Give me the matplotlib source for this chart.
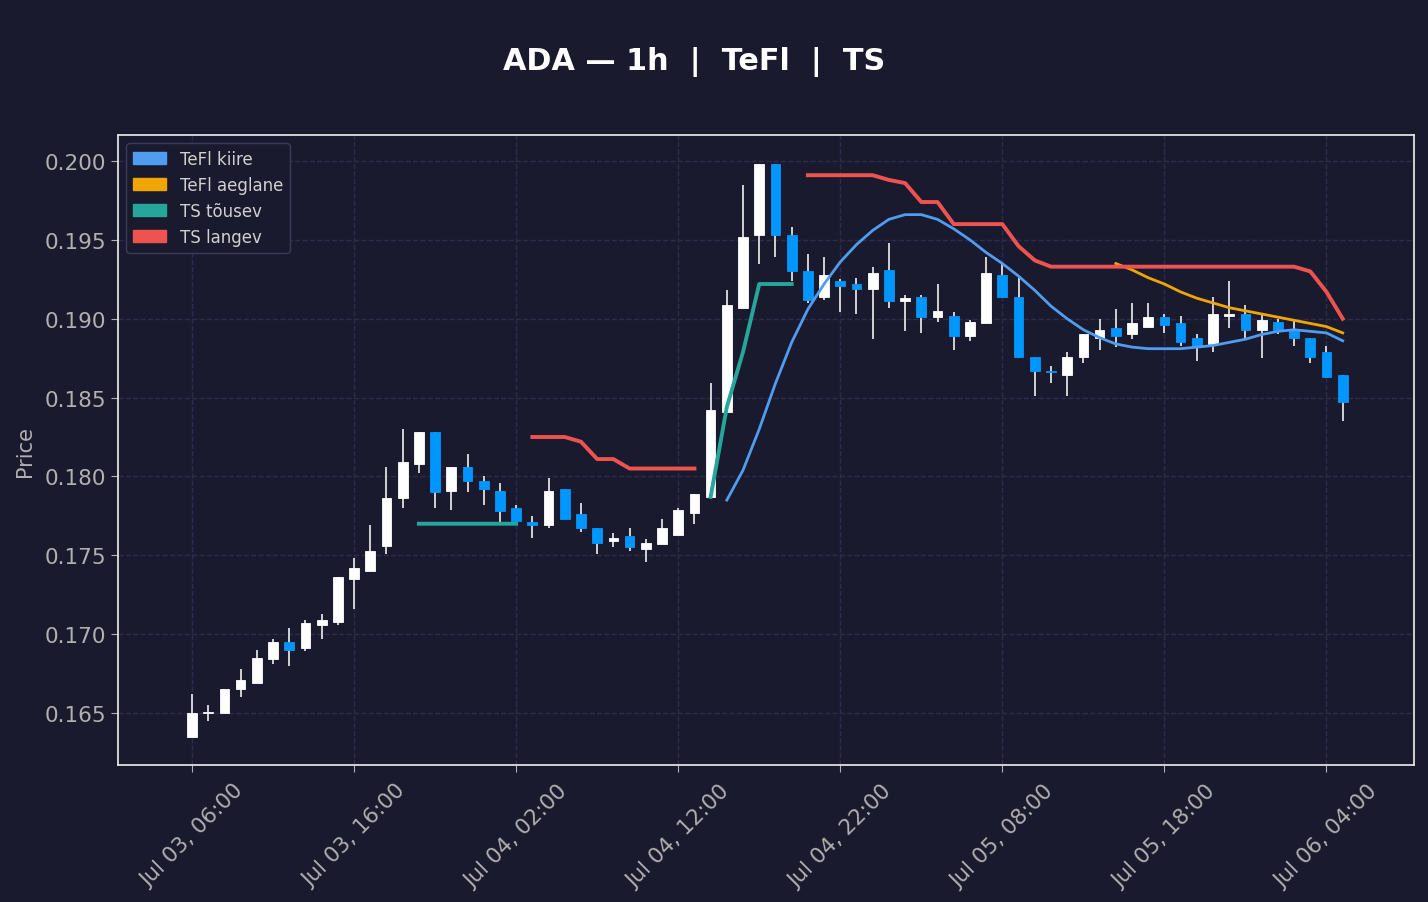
import matplotlib
matplotlib.use("Agg")
import matplotlib.pyplot as plt
import matplotlib.dates as mdates
import matplotlib.patches as mpatches
import numpy as np
import pandas as pd

bg = "#1a1a2e"
up_col = "#ffffff"
down_col = "#0096ff"
wick_col = "#e0e0e0"
kiire_col = "#4f9cf0"
aeglane_col = "#f0a500"
tous_col = "#26a69a"
lang_col = "#ef5350"

times = pd.date_range("2024-07-03 06:00", periods=72, freq="h")

opens = [0.1635, 0.1650, 0.1650, 0.1665, 0.1669, 0.1684, 0.1695, 0.1691, 0.1706, 0.1708,
         0.1735, 0.1740, 0.1756, 0.1786, 0.1808, 0.1828, 0.1791, 0.1806, 0.1797, 0.1791,
         0.1780, 0.1771, 0.1769, 0.1792, 0.1776, 0.1767, 0.1759, 0.1762, 0.1754, 0.1757,
         0.1763, 0.1777, 0.1787, 0.1841, 0.1907, 0.1953, 0.1998, 0.1953, 0.1930, 0.1914,
         0.1924, 0.1922, 0.1919, 0.1931, 0.1911, 0.1914, 0.1901, 0.1902, 0.1889, 0.1897,
         0.1928, 0.1914, 0.1876, 0.1867, 0.1864, 0.1876, 0.1888, 0.1894, 0.1890, 0.1895,
         0.1901, 0.1897, 0.1888, 0.1884, 0.1902, 0.1903, 0.1893, 0.1898, 0.1893, 0.1888,
         0.1879, 0.1864]
closes = [0.1650, 0.1650, 0.1665, 0.1671, 0.1685, 0.1695, 0.1690, 0.1707, 0.1709, 0.1736,
          0.1742, 0.1753, 0.1786, 0.1809, 0.1828, 0.1790, 0.1806, 0.1797, 0.1792, 0.1778,
          0.1772, 0.1769, 0.1791, 0.1773, 0.1767, 0.1758, 0.1761, 0.1755, 0.1758, 0.1767,
          0.1779, 0.1789, 0.1842, 0.1909, 0.1952, 0.1998, 0.1953, 0.1930, 0.1912, 0.1928,
          0.1921, 0.1919, 0.1929, 0.1911, 0.1913, 0.1901, 0.1905, 0.1889, 0.1898, 0.1929,
          0.1914, 0.1876, 0.1867, 0.1866, 0.1876, 0.1890, 0.1893, 0.1889, 0.1897, 0.1901,
          0.1896, 0.1885, 0.1882, 0.1903, 0.1903, 0.1893, 0.1899, 0.1893, 0.1888, 0.1876,
          0.1863, 0.1847]
highs = [0.1662, 0.1655, 0.1665, 0.1678, 0.1690, 0.1697, 0.1704, 0.1709, 0.1713, 0.1736,
         0.1748, 0.1769, 0.1806, 0.1830, 0.1828, 0.1828, 0.1806, 0.1814, 0.1800, 0.1796,
         0.1782, 0.1775, 0.1799, 0.1792, 0.1783, 0.1767, 0.1764, 0.1767, 0.1760, 0.1773,
         0.1780, 0.1789, 0.1859, 0.1918, 0.1985, 0.1998, 0.1998, 0.1958, 0.1941, 0.1939,
         0.1925, 0.1926, 0.1933, 0.1948, 0.1915, 0.1915, 0.1922, 0.1904, 0.1899, 0.1939,
         0.1935, 0.1926, 0.1876, 0.1870, 0.1879, 0.1890, 0.1900, 0.1906, 0.1910, 0.1910,
         0.1903, 0.1902, 0.1890, 0.1914, 0.1924, 0.1909, 0.1903, 0.1900, 0.1899, 0.1888,
         0.1883, 0.1864]
lows = [0.1635, 0.1645, 0.1650, 0.1660, 0.1669, 0.1681, 0.1680, 0.1689, 0.1697, 0.1706,
        0.1716, 0.1740, 0.1751, 0.1780, 0.1802, 0.1780, 0.1779, 0.1790, 0.1782, 0.1771,
        0.1770, 0.1761, 0.1767, 0.1773, 0.1765, 0.1751, 0.1755, 0.1753, 0.1746, 0.1757,
        0.1763, 0.1770, 0.1787, 0.1841, 0.1907, 0.1935, 0.1939, 0.1924, 0.1910, 0.1912,
        0.1904, 0.1903, 0.1887, 0.1907, 0.1892, 0.1891, 0.1898, 0.1880, 0.1886, 0.1897,
        0.1913, 0.1875, 0.1851, 0.1859, 0.1851, 0.1872, 0.1880, 0.1882, 0.1887, 0.1895,
        0.1891, 0.1883, 0.1873, 0.1879, 0.1894, 0.1888, 0.1875, 0.1890, 0.1883, 0.1872,
        0.1863, 0.1835]

# indicator lines (NaN = not drawn)
nan = np.nan
tefl_kiire = [nan] * 33 + [0.1785, 0.1804, 0.1830, 0.1859, 0.1885, 0.1906, 0.1922,
                           0.1936, 0.1947, 0.1956, 0.1963, 0.1966, 0.1966, 0.1963,
                           0.1957, 0.1950, 0.1942, 0.1935, 0.1927, 0.1918, 0.1908,
                           0.1900, 0.1893, 0.1888, 0.1884, 0.1882, 0.1881, 0.1881,
                           0.1881, 0.1882, 0.1883, 0.1885, 0.1887, 0.1890, 0.1892,
                           0.1893, 0.1892, 0.1891, 0.1886]
tefl_aeglane = [nan] * 57 + [0.1935, 0.1931, 0.1926, 0.1922, 0.1917, 0.1913, 0.1910,
                             0.1907, 0.1905, 0.1903, 0.1901, 0.1899, 0.1897, 0.1895,
                             0.1891]
ts_tousev = ([nan] * 14 + [0.1770] * 7 + [nan] * 11
             + [0.1787, 0.1844, 0.1879, 0.1922, 0.1922, 0.1922] + [nan] * 34)
ts_langev = ([nan] * 21 + [0.1825, 0.1825, 0.1825, 0.1822, 0.1811, 0.1811, 0.1805,
                           0.1805, 0.1805, 0.1805, 0.1805] + [nan] * 6
             + [0.1991] * 5 + [0.1988, 0.1986, 0.1974, 0.1974,
                               0.1960, 0.1960, 0.1960, 0.1960, 0.1946, 0.1937]
             + [0.1933] * 16 + [0.1930, 0.1917, 0.1900])

fig = plt.figure(figsize=(14.28, 9.03), dpi=100)
fig.patch.set_facecolor(bg)
ax = fig.add_axes([0.0826, 0.1517, 0.9076, 0.6977])
ax.set_facecolor(bg)

x = mdates.date2num(times)
o = np.array(opens)
c = np.array(closes)
up = c >= o
colors = np.where(up, up_col, down_col)
width = 0.6 / 24

ax.vlines(x, lows, highs, color=wick_col, linewidth=1.3, zorder=2)
body = np.maximum(np.abs(c - o), 0.00006)
bottom = np.minimum(o, c)
ax.bar(x, body, width=width, bottom=bottom, color=colors,
       edgecolor=colors, linewidth=0.6, zorder=3)

ax.plot(x, tefl_kiire, color=kiire_col, linewidth=2, zorder=4)
ax.plot(x, tefl_aeglane, color=aeglane_col, linewidth=2, zorder=4)
ax.plot(x, ts_tousev, color=tous_col, linewidth=2.8, zorder=4)
ax.plot(x, ts_langev, color=lang_col, linewidth=2.8, zorder=4)

ax.set_xlim(x[0] - 4.57 / 24, x[0] + 75.4 / 24)
ax.set_ylim(0.1617, 0.20165)

ax.set_xticks(x[::10])
ax.xaxis.set_major_formatter(mdates.DateFormatter("%b %d, %H:%M"))
ax.set_yticks([0.165, 0.170, 0.175, 0.180, 0.185, 0.190, 0.195, 0.200])
ax.yaxis.set_major_formatter(plt.FuncFormatter(lambda v, p: f"{v:.3f}"))

plt.setp(ax.get_xticklabels(), rotation=45, ha="center")

ax.tick_params(colors="#b0b0b0", labelsize=15.5, length=5)
ax.tick_params(axis="x", pad=6)
ax.grid(True, color="#2c2c4c", linestyle="--", linewidth=1)
ax.set_axisbelow(True)
for sp in ax.spines.values():
    sp.set_color("#e0e0e0")
    sp.set_linewidth(1.3)

ax.set_ylabel("Price", color="#b0b0b0", fontsize=15, labelpad=7)
fig.text(0.486, 0.931, "ADA — 1h  |  TeFl  |  TS", color="white", fontsize=21.8,
         fontweight="bold", ha="center", va="center")

handles = [mpatches.Patch(color=kiire_col, label="TeFl kiire"),
           mpatches.Patch(color=aeglane_col, label="TeFl aeglane"),
           mpatches.Patch(color=tous_col, label="TS tõusev"),
           mpatches.Patch(color=lang_col, label="TS langev")]
leg = ax.legend(handles=handles, loc="upper left", fontsize=12, labelspacing=0.48,
                facecolor=bg, edgecolor="#3a3a5c", framealpha=1)
for t in leg.get_texts():
    t.set_color("#d0d0d0")

fig.savefig("out.png", dpi=100, facecolor=bg)
